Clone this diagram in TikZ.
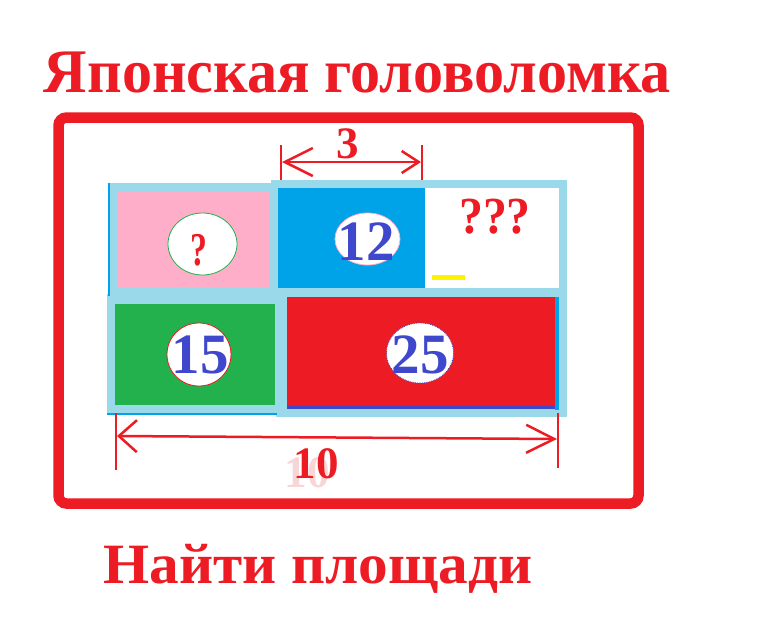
\documentclass[tikz,border=0pt]{standalone}
\usepackage{fontspec}
\setmainfont{Liberation Serif}
\usetikzlibrary{arrows.meta}
\definecolor{pred}{HTML}{ED1C24}
\definecolor{lblue}{HTML}{99D9EA}
\definecolor{pblue}{HTML}{00A2E8}
\definecolor{ppink}{HTML}{FFAEC9}
\definecolor{pgreen}{HTML}{22B14C}
\definecolor{tblue}{HTML}{3F48CC}
\definecolor{pyellow}{HTML}{FFF200}
\definecolor{ghost}{HTML}{F8D6D6}
\tikzset{
  frame/.style={fill=lblue},
  hole/.style={fill=white},
  numtxt/.style={text=tblue,font=\bfseries\fontsize{57}{57}\selectfont,inner sep=0pt,anchor=base},
  qtxt/.style={text=pred,font=\bfseries\fontsize{52}{52}\selectfont,inner sep=0pt,anchor=base},
  dimtxt/.style={text=pred,font=\bfseries\fontsize{45}{45}\selectfont,inner sep=0pt,anchor=base},
  tick/.style={draw=pred,line width=2pt},
  dimline/.style={draw=pred,line width=2.5pt},
  titletxt/.style={text=pred,font=\bfseries\fontsize{62}{62}\selectfont,inner sep=0pt,anchor=base}
}
\begin{document}
\begin{tikzpicture}[x=1pt,y=-1pt]
\useasboundingbox (0,0) rectangle (780,641);
\fill[white] (0,0) rectangle (780,641);
% outer frame
\draw[pred,line width=10.5pt,rounded corners=8pt] (58.5,117.5) rectangle (638.5,503.5);
% light blue frames
\fill[frame] (108,183) rectangle (276,296);
\fill[frame] (271,180) rectangle (567,296);
\fill[frame] (107,294) rectangle (278,413);
\fill[frame] (276,290) rectangle (567,417);
\fill[pblue] (107,413) rectangle (277,415);
\fill[pblue] (108,183) rectangle (110,296);
% cells
\fill[ppink] (117,192) rectangle (269,288);
\fill[pblue] (278,188) rectangle (425,288);
\fill[white] (425,188) rectangle (559,288);
\fill[pyellow] (432,275) rectangle (465,280);
\fill[pgreen] (115,304) rectangle (275,405);
\fill[pred] (287,297) rectangle (555,408);
\fill[pblue] (555,297) rectangle (559,410);
\fill[tblue] (287,406) rectangle (555,409);
% circles
\draw[hole,draw=pgreen,line width=0.8pt] (202.5,244) ellipse [x radius=34.5,y radius=31];
\draw[hole,draw=ppink,line width=0.8pt] (367.5,239) ellipse [x radius=32.5,y radius=26];
\draw[hole,draw=pred,line width=0.8pt] (199,354.5) ellipse [x radius=32,y radius=31.5];
\draw[hole,draw=tblue,line width=0.8pt,densely dotted] (420,353) ellipse [x radius=33.5,y radius=30];
% cell labels
\node[qtxt,xscale=0.72,font=\bfseries\fontsize{47}{47}\selectfont] (qa) at (199,265) {?};
\node[numtxt] (n12) at (366,260) {12};
\node[qtxt,xscale=0.92] (qb) at (495,233) {???};
\node[numtxt] (n15) at (200,373) {15};
\node[numtxt] (n25) at (420,373) {25};
% dimension 3
\coordinate (t3a) at (281,145);
\coordinate (b3a) at (281,180);
\coordinate (t3b) at (422,145);
\coordinate (b3b) at (422,180);
\coordinate (a3a) at (282,162);
\coordinate (a3b) at (421,162);
\draw[tick] (t3a) -- (b3a);
\draw[tick] (t3b) -- (b3b);
\draw[dimline,{Straight Barb[length=28pt,width=28pt,line width=2.5pt]}-{Straight Barb[length=17pt,width=22pt,line width=2.5pt]}] (a3a) -- (a3b);
\node[dimtxt] (d3) at (348,158) {3};
% dimension 10
\coordinate (t10a) at (116,413);
\coordinate (b10a) at (116,470);
\coordinate (t10b) at (558,413);
\coordinate (b10b) at (558,468);
\coordinate (a10a) at (117,436);
\coordinate (a10b) at (557,439);
\draw[tick] (t10a) -- (b10a);
\draw[tick] (t10b) -- (b10b);
\draw[dimline,{Straight Barb[length=18pt,width=32pt,line width=2.5pt]}-{Straight Barb[length=28pt,width=28pt,line width=2.5pt]}] (a10a) -- (a10b);
\node[dimtxt,text=ghost] (g10) at (307,487) {10};
\node[dimtxt] (d10) at (316,478) {10};
% titles
\node[titletxt,xscale=0.97] (title) at (357.5,92) {Японская головоломка};
\node[titletxt,font=\bfseries\fontsize{57}{57}\selectfont,xscale=1.04] (sub) at (318,583) {Найти площади};
\end{tikzpicture}
\end{document}
